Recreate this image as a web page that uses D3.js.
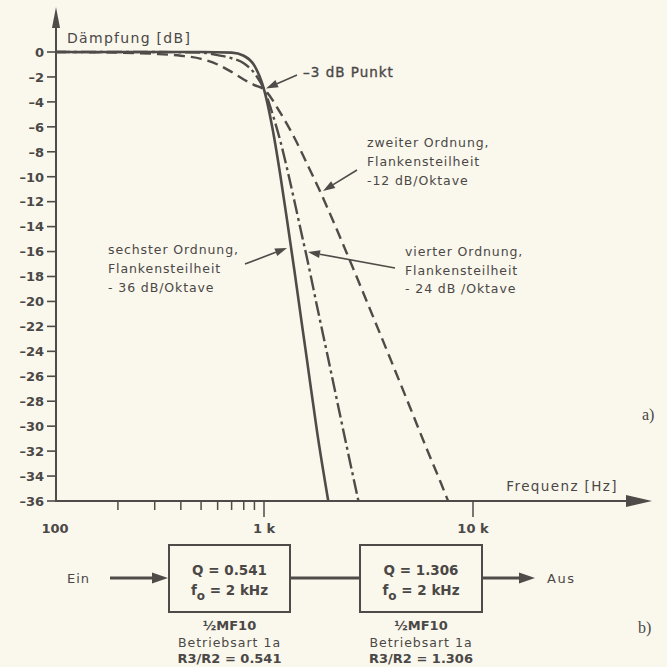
<!DOCTYPE html>
<html>
<head>
<meta charset="utf-8">
<script src="https://cdn.jsdelivr.net/npm/d3@7/dist/d3.min.js"></script>
<style>
  html, body { margin: 0; padding: 0; background: #faf7ec; }
  svg { display: block; }
  text { fill: #4a4846; font-family: "DejaVu Sans", sans-serif; }
</style>
</head>
<body>
<svg id="chart" width="667" height="667"></svg>
<script>
// Butterworth low-pass responses, attenuation in dB over frequency in Hz
const freq2nd = [100, 200, 300, 400, 500, 600, 700, 800, 900, 1000, 1200, 1400, 1600, 1800, 2000, 2500, 3000, 4000, 5000, 6000, 7000, 7600];
const damp2nd = [0, -0.05, -0.15, -0.3, -0.55, -1.0, -1.6, -2.2, -2.65, -3.0, -4.9, -6.9, -8.9, -10.7, -12.4, -16.2, -19.4, -24.5, -28.5, -31.8, -34.5, -36];

const freq4th = [100, 300, 500, 600, 700, 800, 900, 1000, 1100, 1200, 1300, 1400, 1500, 1600, 1800, 2000, 2500, 2830];
const damp4th = [0, 0, -0.05, -0.25, -0.5, -0.9, -1.7, -3.0, -5.0, -7.2, -9.6, -12.0, -14.3, -16.4, -20.5, -24.1, -31.8, -36];

const freq6th = [100, 500, 700, 800, 900, 1000, 1100, 1200, 1300, 1400, 1500, 1600, 1800, 2030];
const damp6th = [0, 0, -0.05, -0.3, -1.1, -3.0, -6.2, -10.0, -13.9, -17.6, -21.2, -24.5, -30.6, -36];

// Axis ticks
const yTicks = [0, -2, -4, -6, -8, -10, -12, -14, -16, -18, -20, -22, -24, -26, -28, -30, -32, -34, -36];
const xMajorTicks = [100, 1000, 10000];
const xMajorLabels = ["100", "1 k", "10 k"];
const xMinorTicks = [200, 300, 400, 500, 600, 700, 800, 900];

// Block diagram contents
const stageQ = ["Q = 0.541", "Q = 1.306"];
const stageF0 = ["2 kHz", "2 kHz"];
const stageChip = ["½MF10", "½MF10"];
const stageMode = ["Betriebsart 1a", "Betriebsart 1a"];
const stageRatio = ["R3/R2 = 0.541", "R3/R2 = 1.306"];

const ink = "#4e4b48";
const svg = d3.select("#chart");

const x = d3.scaleLog().domain([100, 10000]).range([55, 473]);
const y = d3.scaleLinear().domain([0, -36]).range([52, 501]);

// ---- axes ----
const axisY0 = y(-36);
svg.append("line").attr("x1", x(100)).attr("x2", 626).attr("y1", axisY0).attr("y2", axisY0)
  .attr("stroke", ink).attr("stroke-width", 2);
svg.append("path").attr("d", `M626,${axisY0 - 6}L652,${axisY0}L626,${axisY0 + 6}Z`).attr("fill", ink);

svg.append("line").attr("x1", x(100) + 1).attr("x2", x(100) + 1).attr("y1", axisY0).attr("y2", 26)
  .attr("stroke", ink).attr("stroke-width", 2);
svg.append("path").attr("d", `M${x(100) - 3},28L${x(100) + 1},7L${x(100) + 5},28Z`).attr("fill", ink);

// y ticks and labels
const yg = svg.append("g");
yg.selectAll("line").data(yTicks).join("line")
  .attr("x1", 47).attr("x2", x(100)).attr("y1", d => y(d)).attr("y2", d => y(d))
  .attr("stroke", ink).attr("stroke-width", 1.6);
yg.selectAll("text").data(yTicks).join("text")
  .attr("x", 44).attr("y", d => y(d)).attr("dy", "0.37em")
  .attr("text-anchor", "end").attr("font-size", 13).attr("font-weight", "bold")
  .text(d => d === 0 ? "0" : "\u2013" + Math.abs(d));

// x ticks and labels
const xg = svg.append("g");
xg.selectAll("line.minor").data(xMinorTicks).join("line").attr("class", "minor")
  .attr("x1", d => x(d)).attr("x2", d => x(d)).attr("y1", axisY0).attr("y2", axisY0 + 9)
  .attr("stroke", ink).attr("stroke-width", 1.5);
xg.selectAll("line.major").data(xMajorTicks.slice(1)).join("line").attr("class", "major")
  .attr("x1", d => x(d)).attr("x2", d => x(d)).attr("y1", axisY0).attr("y2", axisY0 + 16)
  .attr("stroke", ink).attr("stroke-width", 1.5);
xg.selectAll("text").data(xMajorTicks).join("text")
  .attr("x", d => x(d)).attr("y", 533).attr("text-anchor", "middle")
  .attr("font-size", 13).attr("font-weight", "bold")
  .text((d, i) => xMajorLabels[i]);

// axis titles
svg.append("text").attr("x", 67).attr("y", 43).attr("font-size", 14).attr("letter-spacing", 1.3)
  .text("Dämpfung [dB]");
svg.append("text").attr("x", 618).attr("y", 491).attr("text-anchor", "end")
  .attr("font-size", 13.5).attr("letter-spacing", 1.4)
  .text("Frequenz [Hz]");

// ---- response curves ----
const line = d3.line().x(d => x(d[0])).y(d => y(d[1])).curve(d3.curveMonotoneX);
const series = [
  { f: freq2nd, a: damp2nd, dash: "11,6", w: 2.4 },
  { f: freq4th, a: damp4th, dash: "15,4,3,4", w: 2.4 },
  { f: freq6th, a: damp6th, dash: null, w: 2.6 }
];
series.forEach(s => {
  svg.append("path")
    .attr("d", line(d3.zip(s.f, s.a)))
    .attr("fill", "none").attr("stroke", ink).attr("stroke-width", s.w)
    .attr("stroke-dasharray", s.dash);
});

// ---- annotations ----
function arrow(x1, y1, x2, y2, len, half, width) {
  const ang = Math.atan2(y2 - y1, x2 - x1);
  const bx = x2 - len * Math.cos(ang), by = y2 - len * Math.sin(ang);
  svg.append("line").attr("x1", x1).attr("y1", y1).attr("x2", bx).attr("y2", by)
    .attr("stroke", ink).attr("stroke-width", width);
  const px = -Math.sin(ang) * half, py = Math.cos(ang) * half;
  svg.append("path")
    .attr("d", `M${x2},${y2}L${bx + px},${by + py}L${bx - px},${by - py}Z`)
    .attr("fill", ink);
}
function textBlock(x0, y0, lines, size, spacing, step) {
  lines.forEach((t, i) => {
    svg.append("text").attr("x", x0).attr("y", y0 + i * step)
      .attr("font-size", size).attr("letter-spacing", spacing).text(t);
  });
}

svg.append("text").attr("x", 303).attr("y", 77).attr("font-size", 13.5)
  .attr("letter-spacing", 1).attr("stroke", "#4a4846").attr("stroke-width", 0.35)
  .text("\u20133 dB Punkt");
arrow(297, 75, x(1000) + 2, y(-3) - 1, 12, 4, 1.6);

textBlock(367, 147, ["zweiter Ordnung,", "Flankensteilheit", "-12 dB/Oktave"], 12.5, 0.9, 19);
arrow(357, 170, 323, 191, 12, 4, 1.6);

textBlock(108, 254, ["sechster Ordnung,", "Flankensteilheit", "- 36 dB/Oktave"], 12.5, 0.9, 19);
arrow(245, 264, 287, 248, 12, 4, 1.6);

textBlock(405, 256, ["vierter Ordnung,", "Flankensteilheit", "- 24 dB /Oktave"], 12.5, 0.9, 18.5);
arrow(395, 268, 308, 252, 12, 4, 1.6);

svg.append("text").attr("x", 642).attr("y", 420).attr("font-size", 16)
  .style("font-family", "'Liberation Serif', serif").text("a)");

// ---- block diagram ----
const midY = 578;
const boxes = [{ x0: 169, x1: 290 }, { x0: 360, x1: 482 }];

svg.append("text").attr("x", 67).attr("y", midY + 5).attr("font-size", 13)
  .attr("letter-spacing", 1).text("Ein");
arrow(110, midY, 168, midY, 16, 5.5, 3);
svg.append("line").attr("x1", boxes[0].x1).attr("x2", boxes[1].x0).attr("y1", midY).attr("y2", midY)
  .attr("stroke", ink).attr("stroke-width", 3);
arrow(boxes[1].x1, midY, 535, midY, 16, 5.5, 3);
svg.append("text").attr("x", 547).attr("y", midY + 5).attr("font-size", 13)
  .attr("letter-spacing", 1.5).text("Aus");

boxes.forEach((b, i) => {
  const cx = (b.x0 + b.x1) / 2;
  svg.append("rect").attr("x", b.x0).attr("y", 545).attr("width", b.x1 - b.x0).attr("height", 67)
    .attr("fill", "none").attr("stroke", ink).attr("stroke-width", 2);
  svg.append("text").attr("x", cx).attr("y", 575).attr("text-anchor", "middle")
    .attr("font-size", 13.5).attr("font-weight", "bold").text(stageQ[i]);
  const f = svg.append("text").attr("x", cx).attr("y", 595).attr("text-anchor", "middle")
    .attr("font-size", 13.5).attr("font-weight", "bold");
  f.append("tspan").text("f");
  f.append("tspan").attr("dy", 5).attr("font-size", 12).text("o");
  f.append("tspan").attr("dy", -5).text(" = " + stageF0[i]);
  svg.append("text").attr("x", cx).attr("y", 630).attr("text-anchor", "middle")
    .attr("font-size", 13).attr("font-weight", "bold").text(stageChip[i]);
  svg.append("text").attr("x", cx).attr("y", 647).attr("text-anchor", "middle")
    .attr("font-size", 12.5).attr("letter-spacing", 1).text(stageMode[i]);
  svg.append("text").attr("x", cx).attr("y", 663).attr("text-anchor", "middle")
    .attr("font-size", 13).attr("font-weight", "bold").text(stageRatio[i]);
});

svg.append("text").attr("x", 638).attr("y", 633).attr("font-size", 16)
  .style("font-family", "'Liberation Serif', serif").text("b)");
</script>
</body>
</html>
